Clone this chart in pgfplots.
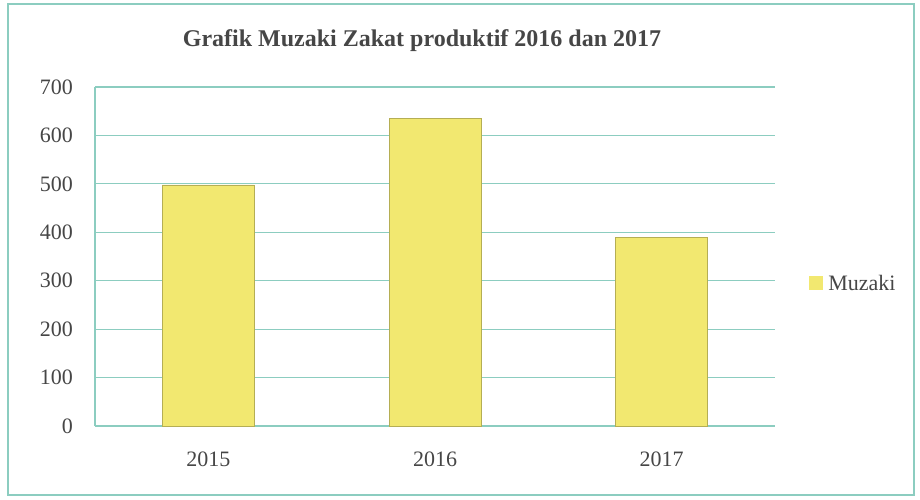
\documentclass[border=0pt]{standalone}
\usepackage{pgfplots}
\pgfplotsset{compat=1.18}
\usepackage{fontspec}
\setmainfont{Liberation Serif}
\definecolor{gridteal}{RGB}{140,205,192}
\definecolor{baryellow}{RGB}{242,232,112}
\definecolor{txtgray}{RGB}{70,70,70}
\begin{document}
\begin{tikzpicture}
\path[use as bounding box] (0pt,0pt) rectangle (920pt,499pt);
\draw[gridteal, line width=1.5pt] (8pt,4pt) rectangle (914pt,495pt);
\node[font=\bfseries\fontsize{24}{27}\selectfont, text=txtgray] at (422pt,458pt) {Grafik Muzaki Zakat produktif 2016 dan 2017};
\begin{axis}[
  at={(95pt,73pt)}, anchor=south west,
  scale only axis, width=680pt, height=339pt,
  xmin=-0.5, xmax=2.5, ymin=0, ymax=700,
  ytick={0,100,...,700},
  xtick=data, xticklabels={2015,2016,2017},
  ymajorgrids, grid style={gridteal, line width=1.1pt},
  axis x line*=bottom, axis y line*=left,
  axis line style={gridteal, line width=1.1pt, -},
  major tick length=0pt,
  ticklabel style={font=\fontsize{22}{24}\selectfont, text=txtgray, inner sep=2pt},
  /pgf/number format/assume math mode=true,
  yticklabel style={xshift=-20pt},
  xticklabel style={yshift=-24pt},
  ybar, bar width=92pt,
  legend style={at={(1.045,0.42)}, anchor=west, draw=none, fill=none, font=\fontsize{22}{24}\selectfont, text=txtgray},
  legend image code/.code={\fill[baryellow] (0pt,-6pt) rectangle (13pt,7pt);},
]
\addplot[fill=baryellow, draw=baryellow!75!black, line width=0.5pt] coordinates {(0,498) (1,635) (2,390)};
\addlegendentry{\hspace{4pt}Muzaki}
\end{axis}
\end{tikzpicture}
\end{document}
